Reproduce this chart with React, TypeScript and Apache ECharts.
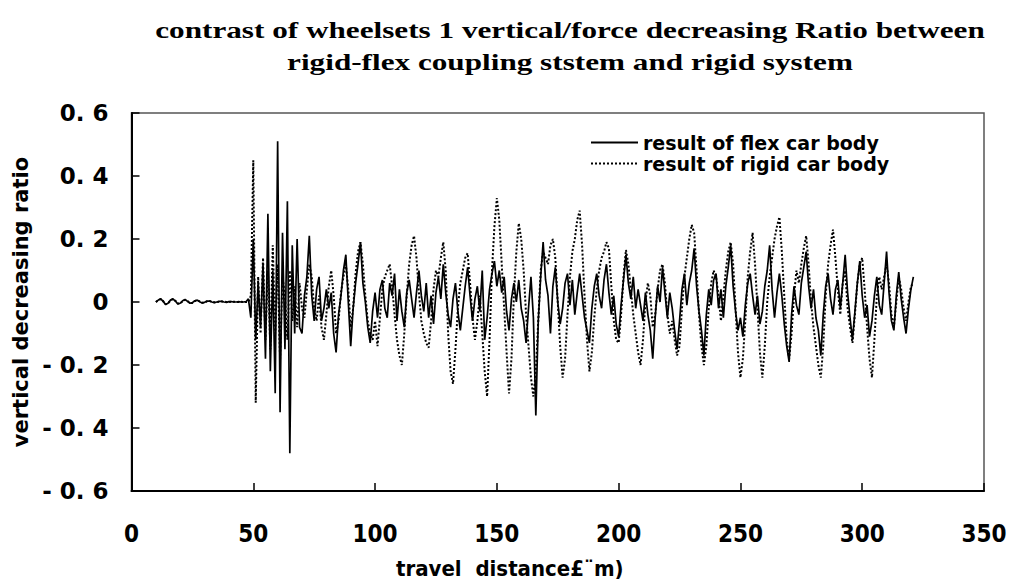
import React, { useEffect, useRef } from "react";
import * as echarts from "echarts";

const titleLines = [
  "contrast of wheelsets 1 vertical/force decreasing Ratio between",
  "rigid-flex coupling ststem and rigid system",
];
const xAxisName = "travel  distance£¨m)";
const yAxisName = "vertical decreasing ratio";
const seriesNames = ["result of flex car body", "result of rigid car body"];
const yTickValues = [-0.6, -0.4, -0.2, 0, 0.2, 0.4, 0.6];
const yTickLabels = ["- 0. 6", "- 0. 4", "- 0. 2", "0", "0. 2", "0. 4", "0. 6"];
const xTickLabels = ["0", "50", "100", "150", "200", "250", "300", "350"];

// sampling grid of the travel distance (m)
const distanceStart = 10;
const distanceStep = 1;

// result of flex car body, distance 10 .. 321
const flexValues = [
  0.0, 0.006, 0.01, 0.002, -0.008, -0.004, 0.006, 0.01, 0.003, -0.006,
  -0.004, 0.004, 0.008, 0.002, -0.004, -0.002, 0.004, 0.006, 0.001, -0.003,
  -0.001, 0.003, 0.003, 0.0, -0.002, 0.0, 0.002, 0.002, 0.0, -0.001,
  0.001, 0.001, 0.0, 0.0, 0.001, 0.0, 0.0, 0.001, 0.01, -0.05,
  0.2, -0.12, 0.06, -0.08, 0.12, -0.18, 0.28, -0.22, 0.1, -0.29,
  0.51, -0.35, 0.22, -0.15, 0.32, -0.48, 0.18, -0.1, 0.2, -0.08,
  -0.1, 0.02, 0.08, 0.21, 0.02, -0.06, 0.04, 0.08, -0.06, -0.02,
  0.04, -0.02, 0.03, -0.1, -0.16, -0.04, 0.02, 0.1, 0.15, 0.0,
  -0.14, -0.02, 0.06, 0.12, 0.19, 0.06, 0.0, -0.08, -0.13, -0.03,
  0.03, -0.05, 0.04, 0.07, -0.02, -0.05, 0.06, 0.02, 0.09, -0.06,
  0.04, -0.03, -0.08, 0.03, 0.07, 0.01, -0.05, 0.03, 0.1, 0.02,
  -0.03, 0.06, -0.05, 0.02, -0.07, 0.03, 0.08, 0.01, 0.12, 0.03,
  -0.04, -0.08, 0.01, 0.06, -0.03, -0.09, -0.02, 0.05, 0.11, 0.02,
  -0.06, 0.01, 0.05, -0.03, 0.1, -0.12, -0.05, 0.04, 0.09, 0.13,
  0.05, 0.1, 0.03, 0.08, -0.03, -0.09, 0.01, 0.06, 0.0, 0.07,
  -0.02, -0.06, -0.13, -0.02, 0.08, -0.05, -0.36, -0.06, 0.08, 0.19,
  0.07, 0.02, -0.1, 0.05, 0.11, 0.0, -0.07, -0.02, 0.06, 0.09,
  -0.01, 0.07, -0.04, 0.03, 0.09, 0.02, -0.05, -0.09, -0.13, -0.02,
  0.05, 0.09, 0.02, -0.02, 0.07, 0.12, 0.03, -0.04, 0.02, -0.07,
  -0.11, -0.01, 0.07, 0.15, 0.06, 0.01, 0.08, -0.02, 0.04, -0.01,
  -0.06, 0.03, -0.04, -0.09, -0.18, -0.05, 0.05, 0.0, 0.11, 0.03,
  -0.05, 0.03, -0.02, -0.09, -0.15, -0.06, 0.04, 0.09, -0.01, 0.06,
  0.1, 0.17, 0.05, -0.03, -0.09, -0.17, -0.04, 0.04, -0.01, 0.07,
  0.09, -0.02, 0.04, -0.05, 0.05, 0.11, 0.18, 0.05, -0.03, -0.09,
  -0.05, -0.11, -0.01, 0.06, 0.09, 0.02, -0.04, 0.02, -0.07, -0.03,
  0.05, 0.1, 0.18, 0.04, -0.05, 0.03, 0.09, 0.02, -0.07, -0.14,
  -0.19, -0.04, 0.05, -0.01, -0.04, 0.06, 0.11, 0.16, 0.05, -0.02,
  0.04, -0.05, -0.09, -0.17, -0.04, 0.05, 0.09, 0.01, -0.04, 0.04,
  0.07, -0.02, 0.06, 0.15, 0.03, -0.05, -0.12, -0.03, 0.06, 0.13,
  0.02, -0.05, -0.01, -0.11, -0.06, 0.02, 0.08, -0.01, -0.04, 0.06,
  0.16, 0.03, -0.06, -0.09, 0.02, 0.095, 0.01, -0.05, -0.1, -0.02,
  0.04, 0.08,
];

// result of rigid car body, distance 10 .. 321
const rigidValues = [
  0.0, 0.005, 0.009, 0.003, -0.007, -0.005, 0.005, 0.009, 0.004, -0.005,
  -0.005, 0.003, 0.007, 0.003, -0.003, -0.003, 0.003, 0.005, 0.002, -0.002,
  -0.002, 0.002, 0.003, 0.001, -0.001, 0.0, 0.001, 0.002, 0.001, 0.0,
  0.0, 0.001, 0.001, 0.0, 0.0, 0.001, 0.0, 0.0, 0.0, 0.02,
  0.45, -0.32, 0.08, -0.1, 0.14, -0.12, 0.1, -0.15, 0.18, -0.1,
  0.12, -0.18, 0.08, 0.02, -0.12, 0.1, -0.06, 0.05, -0.08, 0.06,
  -0.02, -0.05, 0.04, 0.12, 0.08, -0.02, -0.06, 0.02, -0.08, -0.12,
  -0.04, 0.05, 0.1, 0.02, -0.1, -0.06, 0.03, 0.08, 0.12, 0.04,
  -0.08, -0.02, 0.09, 0.16, 0.19, 0.12, 0.02, -0.06, -0.1, -0.12,
  -0.06, -0.14, -0.05, 0.04, 0.08, 0.1, 0.12, 0.05, -0.04, -0.12,
  -0.17, -0.2, -0.1, 0.02, 0.12, 0.18, 0.21, 0.14, 0.03, -0.06,
  -0.1, -0.13, -0.145, -0.06, 0.04, 0.1, 0.08, 0.14, 0.19, 0.1,
  -0.1, -0.22, -0.26, -0.15, -0.02, 0.06, 0.1, 0.14, 0.155, 0.06,
  -0.05, -0.12, -0.06, 0.02, -0.1, -0.22, -0.3, -0.12, 0.1, 0.24,
  0.33, 0.26, 0.12, -0.02, -0.16, -0.29, -0.18, 0.02, 0.16, 0.25,
  0.2, 0.1, -0.04, -0.14, -0.24, -0.3, -0.22, -0.06, 0.1, 0.16,
  0.14, 0.12, 0.18, 0.2, 0.14, 0.0, -0.14, -0.24, -0.18, -0.04,
  0.08, 0.16, 0.2, 0.26, 0.29, 0.18, 0.02, -0.12, -0.22, -0.16,
  -0.05, 0.04, 0.1, 0.14, 0.16, 0.19, 0.17, 0.05, -0.06, -0.12,
  -0.13, -0.04, 0.08, 0.165, 0.12, 0.04, -0.04, -0.1, -0.16, -0.2,
  -0.12, 0.0, 0.06, 0.02, -0.08, -0.04, 0.04, 0.1, 0.12, 0.06,
  -0.04, -0.1, -0.06, -0.12, -0.17, -0.14, -0.02, 0.08, 0.14, 0.2,
  0.245, 0.22, 0.1, -0.04, -0.14, -0.2, -0.14, -0.02, 0.06, 0.1,
  0.08, 0.02, -0.06, 0.02, 0.1, 0.16, 0.19, 0.12, -0.02, -0.16,
  -0.24, -0.18, -0.06, 0.08, 0.16, 0.22, 0.12, -0.02, -0.16, -0.24,
  -0.14, 0.0, 0.08, 0.14, 0.2, 0.24, 0.27, 0.16, 0.02, -0.12,
  -0.18, -0.1, 0.02, 0.1, 0.06, 0.12, 0.17, 0.21, 0.12, 0.0,
  -0.08, -0.14, -0.2, -0.24, -0.14, 0.02, 0.12, 0.18, 0.23, 0.14,
  0.04, -0.04, 0.06, 0.1, -0.02, -0.08, -0.13, -0.04, 0.06, 0.12,
  0.14, 0.04, -0.08, -0.18, -0.24, -0.12, 0.02, 0.08, 0.04, 0.08,
  0.12, 0.06, -0.04, -0.08, 0.0, 0.08, 0.04, -0.02, -0.06, 0.0,
  0.05, 0.06,
];

const distance = flexValues.map((_, i) => distanceStart + i * distanceStep);

export default function App() {
  const ref = useRef<HTMLDivElement>(null);

  useEffect(() => {
    if (!ref.current) return;
    const chart = echarts.init(ref.current, undefined, { renderer: "svg" });
    const sansBold = "'DejaVu Sans', 'Noto Sans', sans-serif";
    const condensed = "'DejaVu Sans Condensed', 'DejaVu Sans', sans-serif";
    chart.setOption({
      animation: false,
      backgroundColor: "#ffffff",
      grid: {
        left: 131.5,
        right: 30,
        top: 113,
        bottom: 94,
        show: true,
        borderColor: "#555555",
        borderWidth: 1.5,
        backgroundColor: "transparent",
      },
      graphic: [
        {
          type: "text",
          x: 570,
          y: 46,
          scaleX: 1.3,
          style: {
            text: titleLines.join("\n"),
            font: "bold 24px 'Liberation Serif', 'Times New Roman', serif",
            fill: "#000",
            textAlign: "center",
            textVerticalAlign: "middle",
            lineHeight: 32,
          },
        },
      ],
      legend: {
        orient: "vertical",
        left: 590,
        top: 133,
        itemWidth: 47,
        itemHeight: 14,
        itemGap: 2,
        padding: 0,
        data: seriesNames,
        itemStyle: { opacity: 0, borderWidth: 0 },
        textStyle: {
          fontFamily: sansBold,
          fontWeight: "bold",
          fontSize: 19,
          color: "#000",
          lineHeight: 18,
        },
      },
      xAxis: {
        type: "value",
        min: 0,
        max: 350,
        interval: 50,
        name: xAxisName,
        nameLocation: "middle",
        nameGap: 66,
        nameTextStyle: {
          fontFamily: condensed,
          fontWeight: "bold",
          fontSize: 22,
          color: "#000",
          padding: [0, 96, 0, 0],
        },
        axisLine: { show: true, onZero: false, lineStyle: { color: "#000", width: 2 } },
        axisTick: { show: true, inside: true, length: 8, lineStyle: { color: "#000", width: 1.5 } },
        splitLine: { show: false },
        axisLabel: {
          margin: 31,
          fontFamily: condensed,
          fontWeight: "bold",
          fontSize: 24,
          color: "#000",
          formatter: (v: number) => xTickLabels[Math.round(v / 50)] ?? "",
        },
      },
      yAxis: {
        type: "value",
        min: -0.6,
        max: 0.6,
        interval: 0.2,
        name: yAxisName,
        nameLocation: "middle",
        nameRotate: 90,
        nameGap: 97,
        nameTextStyle: {
          fontFamily: sansBold,
          fontWeight: "bold",
          fontSize: 21,
          color: "#000",
        },
        axisLine: { show: true, onZero: false, lineStyle: { color: "#000", width: 2 } },
        axisTick: { show: true, inside: true, length: 8, lineStyle: { color: "#000", width: 1.5 } },
        splitLine: { show: false },
        axisLabel: {
          margin: 23,
          fontFamily: sansBold,
          fontWeight: "bold",
          fontSize: 23,
          color: "#000",
          formatter: (v: number) => {
            const idx = yTickValues.findIndex((t) => Math.abs(t - v) < 1e-6);
            return idx >= 0 ? yTickLabels[idx] : "";
          },
        },
      },
      series: [
        {
          name: seriesNames[0],
          type: "line",
          showSymbol: false,
          symbol: "none",
          data: distance.map((d, i) => [d, flexValues[i]]),
          lineStyle: { color: "#000", width: 1.7, type: "solid" },
          itemStyle: { color: "#000" },
        },
        {
          name: seriesNames[1],
          type: "line",
          showSymbol: false,
          symbol: "none",
          data: distance.map((d, i) => [d, rigidValues[i]]),
          lineStyle: { color: "#000", width: 2, type: [2, 2] },
          itemStyle: { color: "#000" },
        },
      ],
    });
    return () => chart.dispose();
  }, []);

  return (
    <div
      ref={ref}
      style={{ position: "fixed", left: 0, top: 0, width: 1014, height: 585, background: "#fff" }}
    />
  );
}
